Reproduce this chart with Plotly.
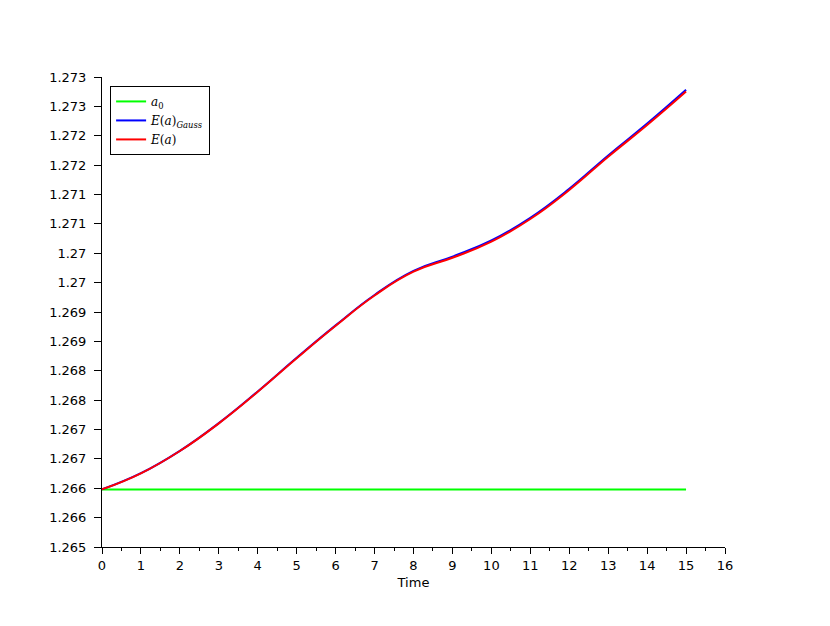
import plotly.graph_objects as go

time = list(range(0, 16))
e_a = [1.265980, 1.266254, 1.266634, 1.267105, 1.267643, 1.268214, 1.268765, 1.269281,
       1.269686, 1.269923, 1.270197, 1.270583, 1.271077, 1.271643, 1.272183, 1.272753]
e_a_gauss = [1.265980, 1.266256, 1.266637, 1.267109, 1.267648, 1.268220, 1.268772, 1.269290,
             1.269699, 1.269942, 1.270217, 1.270603, 1.271097, 1.271665, 1.272207, 1.272782]
a0_time = [0, 15]
a0 = [1.265980, 1.265980]

y_tickvals = [1.265 + 0.0005 * i for i in range(17)]
y_ticktext = ["1.265", "1.266", "1.266", "1.267", "1.267", "1.268", "1.268", "1.269", "1.269",
              "1.27", "1.27", "1.271", "1.271", "1.272", "1.272", "1.273", "1.273"]
x_tickvals = list(range(0, 17))

fig = go.Figure()
fig.add_trace(go.Scatter(x=a0_time, y=a0, mode="lines", name="<i>a</i><sub>0</sub>",
                         line=dict(color="#00ff00", width=2)))
fig.add_trace(go.Scatter(x=time, y=e_a_gauss, mode="lines",
                         name="<i>E</i>(<i>a</i>)<sub><i>Gauss</i></sub>",
                         line=dict(color="#0000ff", width=2, shape="spline", smoothing=1.3)))
fig.add_trace(go.Scatter(x=time, y=e_a, mode="lines", name="<i>E</i>(<i>a</i>)",
                         line=dict(color="#ff0000", width=2, shape="spline", smoothing=1.3)))

fig.update_layout(
    width=830, height=626,
    margin=dict(l=94, r=113, t=69, b=87),
    paper_bgcolor="white", plot_bgcolor="white",
    font=dict(family="DejaVu Sans", size=13, color="black"),
    showlegend=True,
    legend=dict(x=0.013, y=0.981, xanchor="left", yanchor="top",
                bordercolor="black", borderwidth=1, bgcolor="white",
                font=dict(family="DejaVu Serif", size=12),
                tracegroupgap=0, itemwidth=30),
    xaxis=dict(range=[0, 16], tickvals=x_tickvals, ticks="outside", ticklen=6, tickwidth=1,
               tickcolor="black", showline=True, linecolor="black", linewidth=1,
               showgrid=False, zeroline=False,
               minor=dict(dtick=0.5, ticks="outside", ticklen=3, tickcolor="black", showgrid=False),
               title=dict(text="Time", font=dict(size=13), standoff=6)),
    yaxis=dict(range=[1.265, 1.273], tickvals=y_tickvals, ticktext=y_ticktext,
               ticks="outside", ticklen=7, tickwidth=1, tickcolor="black",
               showline=True, linecolor="black", linewidth=1,
               showgrid=False, zeroline=False, ticklabelstandoff=5),
)

fig.write_html("out.html")
